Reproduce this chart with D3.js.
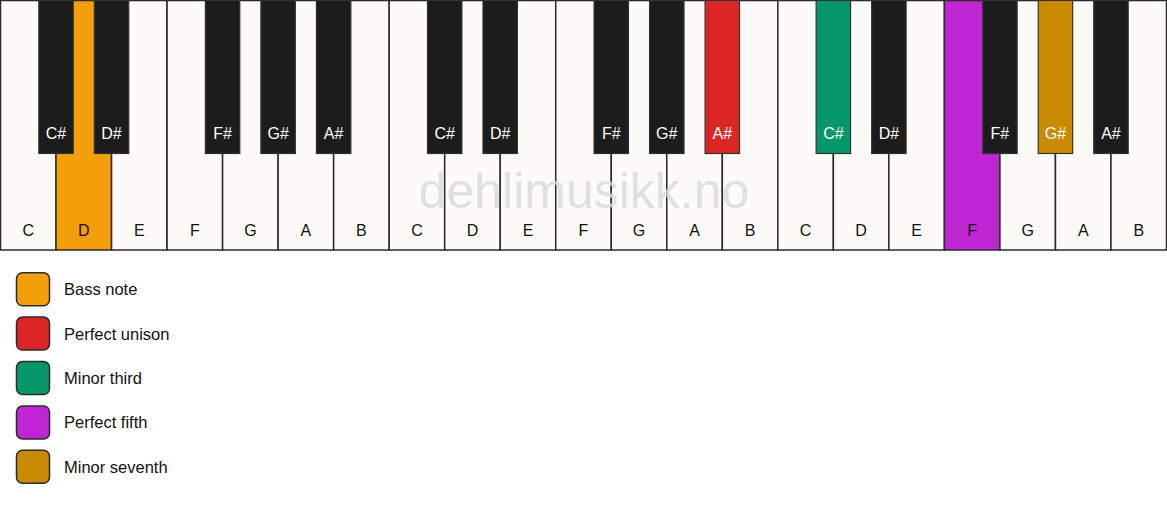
<!DOCTYPE html>
<html>
<head>
<meta charset="utf-8">
<script src="https://cdn.jsdelivr.net/npm/d3@7"></script>
<style>
  body { margin: 0; background: #ffffff; }
  svg { display: block; }
</style>
</head>
<body>
<svg id="chart" width="1167" height="506"></svg>
<script>
// Keyboard data: three octaves
const octaves = [0, 1, 2];
const whiteNames = ["C", "D", "E", "F", "G", "A", "B"];
// black key name and index of the white key it sits after
const blackNames = ["C#", "D#", "F#", "G#", "A#"];
const blackAfter = [0, 1, 3, 4, 5];

// Highlighted keys: note name, octave, interval
const highlightNotes = ["D", "A#", "C#", "F", "G#"];
const highlightOctaves = [0, 1, 2, 2, 2];
const highlightIntervals = ["Bass note", "Perfect unison", "Minor third", "Perfect fifth", "Minor seventh"];
const intervalColors = ["#f59e0b", "#dc2626", "#059669", "#c026d3", "#ca8a04"];

const font = "'Liberation Sans', Arial, sans-serif";
const svg = d3.select("#chart");

const kbHeight = 250;
const blackHeight = 153;

// Build key lists
const whiteKeys = [];
octaves.forEach(o => whiteNames.forEach(n => whiteKeys.push({ name: n, octave: o, id: n + o })));
const blackKeys = [];
octaves.forEach((o, oi) => blackNames.forEach((n, i) => {
    blackKeys.push({ name: n, octave: o, id: n + o, after: oi * 7 + blackAfter[i] });
}));

function keyColor(d) {
    for (let i = 0; i < highlightNotes.length; i++) {
        if (highlightNotes[i] === d.name && highlightOctaves[i] === d.octave) return intervalColors[i];
    }
    return null;
}

const x = d3.scaleBand()
    .domain(whiteKeys.map(d => d.id))
    .range([0.5, 1166.5])
    .padding(0);
const wk = x.bandwidth();
const bw = wk * 0.62;

// White keys
svg.append("g")
    .selectAll("rect")
    .data(whiteKeys)
    .enter()
    .append("rect")
    .attr("x", d => x(d.id))
    .attr("y", 0.5)
    .attr("width", wk)
    .attr("height", kbHeight - 0.5)
    .attr("fill", d => keyColor(d) || "#fcfbf8")
    .attr("stroke", "#2b2b2b")
    .attr("stroke-width", 1.5);

// Watermark
svg.append("text")
    .attr("x", 584)
    .attr("y", 208)
    .attr("text-anchor", "middle")
    .attr("font-family", font)
    .style("font-size", "50px")
    .attr("fill", "#d9d9d9")
    .attr("fill-opacity", 0.8)
    .text("dehlimusikk.no");

// White key labels
svg.append("g")
    .selectAll("text")
    .data(whiteKeys)
    .enter()
    .append("text")
    .attr("x", d => x(d.id) + wk / 2)
    .attr("y", 236)
    .attr("text-anchor", "middle")
    .attr("font-family", font)
    .style("font-size", "16px")
    .attr("fill", "#111")
    .text(d => d.name);

// Black keys
const bx = d => x(whiteKeys[d.after].id) + wk - bw / 2;
svg.append("g")
    .selectAll("rect")
    .data(blackKeys)
    .enter()
    .append("rect")
    .attr("x", bx)
    .attr("y", 0.5)
    .attr("width", bw)
    .attr("height", blackHeight)
    .attr("fill", d => keyColor(d) || "#1c1c1c")
    .attr("stroke", "#333")
    .attr("stroke-width", 1.2);

svg.append("g")
    .selectAll("text")
    .data(blackKeys)
    .enter()
    .append("text")
    .attr("x", d => bx(d) + bw / 2)
    .attr("y", 139)
    .attr("text-anchor", "middle")
    .attr("font-family", font)
    .style("font-size", "16px")
    .attr("fill", "#ffffff")
    .text(d => d.name);

// Legend
const ly = d3.scaleBand()
    .domain(highlightIntervals)
    .range([267, 489])
    .padding(0);

const legend = svg.append("g")
    .selectAll("g")
    .data(highlightIntervals)
    .enter()
    .append("g")
    .attr("transform", d => `translate(0,${ly(d) + ly.bandwidth() / 2})`);

legend.append("rect")
    .attr("x", 16.5)
    .attr("y", -16.5)
    .attr("width", 33)
    .attr("height", 33)
    .attr("rx", 6)
    .attr("fill", (d, i) => intervalColors[i])
    .attr("stroke", "#2b2b2b")
    .attr("stroke-width", 1.5);

legend.append("text")
    .attr("x", 64)
    .attr("y", 6)
    .attr("font-family", font)
    .style("font-size", "16.5px")
    .attr("fill", "#111")
    .text(d => d);
</script>
</body>
</html>
